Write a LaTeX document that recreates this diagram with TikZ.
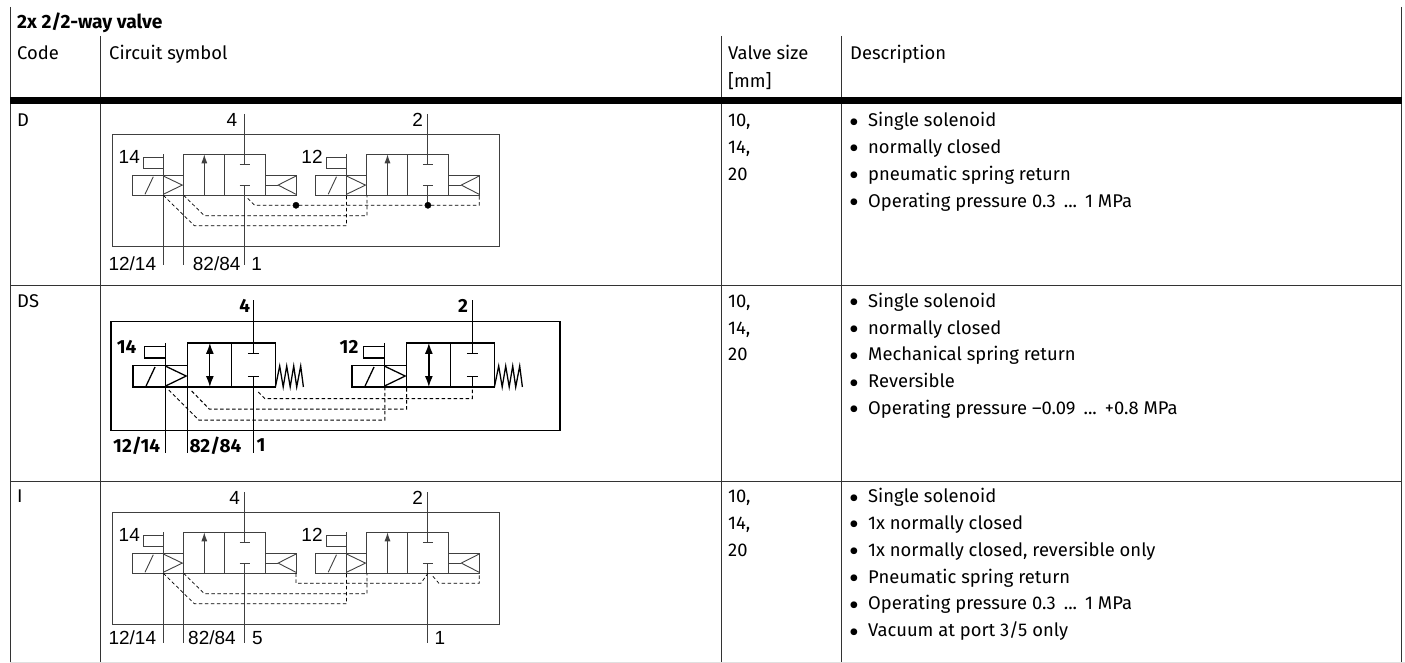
\documentclass[tikz,border=0pt]{standalone}
\usepackage{fontspec}
\setmainfont{Fira Sans}
\newfontfamily\portfont{Liberation Sans}
\usepackage{tikz}
\usetikzlibrary{calc}
\usetikzlibrary{arrows.meta}
\definecolor{rulegray}{gray}{0.2}
\definecolor{linegray}{gray}{0.25}
\newcommand{\rangedots}{\hspace{8pt}...\hspace{8pt}}
\newcommand{\listdot}{\makebox[18pt][l]{\smash{\raisebox{-5.4pt}{\fontsize{30}{30}\selectfont\kern-1pt\textbullet}}}}
\tikzstyle{junction}=[draw=black,fill=black,inner sep=2.2pt,circle]
\tikzstyle{cell}=[anchor=base west,inner sep=0pt,font=\fontsize{18.4}{22}\selectfont]
\tikzstyle{port}=[inner sep=0pt,font=\fontsize{19}{20}\selectfont\portfont]
\tikzstyle{boldport}=[inner sep=0pt,font=\fontsize{19}{20}\selectfont\bfseries]
\tikzstyle{rule}=[draw=rulegray,line width=0.9pt]
\tikzstyle{sym}=[draw=linegray,line width=0.9pt]
\tikzstyle{pilot}=[draw=black,line width=0.7pt,dash pattern=on 3.5pt off 2.5pt]

\begin{document}
\begin{tikzpicture}[x=1pt,y=-1pt]
  \useasboundingbox (0,0) rectangle (1405,663);

  % table
  \foreach \i/\x/\y in {1/10/7,2/100.7/36,3/721/36,4/841.7/36,5/1401.5/7}{
    \coordinate (top\i) at (\x,\y);
    \coordinate (bot\i) at (\x,663);
    \draw[rule] (top\i) -- (bot\i);
  }
  \fill[black] (10,97) rectangle (1401.5,104.3);
  \foreach \y in {285.5,481}{
    \draw[rule] (10,\y) -- (1401.5,\y);
  }
  \draw[black!12,line width=0.8pt] (10,662.3) -- (1405,662.3);

  \node[cell,font=\fontsize{19.2}{22}\selectfont\bfseries] (title) at (17,29) {2x 2/2-way valve};
  \foreach \x/\t in {17/Code,109/Circuit symbol,728/Valve size,850/Description}{
    \node[cell] (head\x) at (\x,59.3) {\t};
  }
  \node[cell] (unit) at (728,88) {[mm]};

  % rows
  \foreach \c/\t/\y in {d/D/126.7,s/DS/307.3,i/I/502.7}{
    \node[cell] (code\c) at (17,\y) {\t};
    \foreach \j/\v in {0/{10,},1/{14,},2/20}{
      \node[cell] (size\c\j) at (728,\y+\j*26.8) {\v};
    }
  }
  \foreach \j/\t in {0/Single solenoid,1/normally closed,2/pneumatic spring return,3/Operating pressure 0.3\rangedots{}1 MPa}{
    \node[cell] (descd\j) at (850,126.7+\j*26.8) {\listdot\t};
  }
  \foreach \j/\t in {0/Single solenoid,1/normally closed,2/Mechanical spring return,3/Reversible,4/Operating pressure --0.09\rangedots{}+0.8 MPa}{
    \node[cell] (descs\j) at (850,307.3+\j*26.8) {\listdot\t};
  }
  \foreach \j/\t in {0/Single solenoid,1/1x normally closed,2/{1x normally closed, reversible only},3/Pneumatic spring return,4/Operating pressure 0.3\rangedots{}1 MPa,5/{Vacuum at port 3/5 only}}{
    \node[cell] (desci\j) at (850,502.7+\j*26.8) {\listdot\t};
  }

  % boxes round the symbols
  \draw[sym] (112.7,134.3) rectangle (499.3,246);
  \draw[sym,line width=1.3pt,draw=black] (111,321.3) rectangle (560,430.3);
  \draw[sym] (112.7,512.3) rectangle (499.3,624);

  % valves
  \foreach \v/\x/\y/\s/\w/\k in {a/183.7/195.3/1/0.9/linegray,b/366.9/195.3/1/0.9/linegray,c/187.7/387/1.075/1.3/black,d/406.7/387/1.075/1.3/black,e/183.7/573.3/1/0.9/linegray,f/366.9/573.3/1/0.9/linegray}{
    \begin{scope}[shift={(\x,\y)},scale=\s,draw=\k,line width=\w pt]
      \draw (0,0) rectangle (81.6,-41);
      \draw (40.6,0) -- (40.6,-41);
      \draw (-51,0) rectangle (0,-20.3);
      \draw (-38.7,-1) -- (-30.4,-18.6);
      \draw (-20.4,-1) -- (-1.4,-10.2) -- (-20.4,-19.3);
      \draw (-20.4,-41) -- (-20.4,0);
      \draw (-20.4,-38) -- (-40.4,-38) -- (-40.4,-27) -- (-20.4,-27);
      \draw (56,-31) -- (66,-31);
      \draw (56,-10) -- (66,-10);
      \coordinate (\v-t) at (61,-31);
      \coordinate (\v-l) at (61,-10);
      \coordinate (\v-n) at (61,0);
      \coordinate (\v-s) at (-20.4,0);
      \coordinate (\v-x) at (0,0);
      \coordinate (\v-r) at (112.3,0);
      \coordinate (\v-m) at (20.6,0);
      \coordinate (\v-o) at (20.6,-41);
    \end{scope}
  }

  % pneumatic return and single arrow
  \foreach \v in {a,b,e,f}{
    \begin{scope}[shift={(\v-x)},sym]
      \draw (81.6,-20.3) -- (112.3,-20.3) -- (112.3,0) -- (81.6,0);
      \draw (81.6,-10.2) -- (94,-10.2);
      \draw (112.3,-19.3) -- (94.4,-10.2) -- (112.3,-1);
    \end{scope}
    \draw[sym,-{Latex[length=9pt,width=6pt]}] (\v-m) -- (\v-o);
  }
  % mechanical spring and double arrow
  \foreach \v in {c,d}{
    \begin{scope}[shift={(\v-x)},draw=black,line width=1.3pt]
      \draw (87.7,0) -- (92,-21) -- (95.5,0) -- (99,-21) -- (102.5,0) -- (106,-21) -- (109,0) -- (113,-21) -- (115.7,0);
    \end{scope}
    \draw[draw=black,fill=black,line width=1.3pt,{Latex[length=11pt,width=8pt]}-{Latex[length=11pt,width=8pt]}] (\v-m) -- (\v-o);
  }

  % ports
  \foreach \v in {a,b,e,f}{
    \coordinate (\v-in) at ($(\v-t)+(0,-50.3)$);
    \draw[sym] (\v-in) -- (\v-t);
  }
  \foreach \v in {a,e}{
    \coordinate (\v-a) at ($(\v-s)+(0,70)$);
    \coordinate (\v-b) at ($(\v-x)+(0,70)$);
    \coordinate (\v-c) at ($(\v-n)+(0,70)$);
    \draw[sym] (\v-s) -- (\v-a);
    \draw[sym] (\v-x) -- (\v-b);
    \draw[sym] (\v-l) -- (\v-c);
  }
  \foreach \v in {c,d}{
    \coordinate (\v-in) at ($(\v-t)+(0,-53.3)$);
    \draw[black,line width=1.3pt] (\v-in) -- (\v-t);
  }
  \coordinate (c-a) at ($(c-s)+(0,65.7)$);
  \coordinate (c-b) at ($(c-x)+(0,65.7)$);
  \coordinate (c-c) at ($(c-n)+(0,65.7)$);
  \draw[black,line width=1.3pt] (c-s) -- (c-a);
  \draw[black,line width=1.3pt] (c-x) -- (c-b);
  \draw[black,line width=1.3pt] (c-l) -- (c-c);
  \draw[black,line width=1.3pt] (d-l) -- (d-n);
  \draw[sym] (b-l) -- ($(b-n)+(0,10)$);
  \coordinate (f-c) at ($(f-n)+(0,70)$);
  \draw[sym] (f-l) -- (f-c);

  % pilot lines
  \draw[pilot] (a-n) ++(3,3) -- ++(7,7) -| (b-r);
  \draw[pilot] (a-x) -- ++(20.6,20.4) -| (b-x);
  \draw[pilot] (a-s) -- ++(31,30.4) -| (b-s);
  \node[junction] (dot1) at ($(a-r)+(0,10)$) {};
  \node[junction] (dot2) at ($(b-n)+(0,10)$) {};

  \draw[pilot,line width=1pt] (c-n) ++(5,5) -- ++(6.5,6.5) -| (d-n);
  \draw[pilot,line width=1pt] (c-x) ++(4,4) -- ++(17.5,18) -| (d-x);
  \draw[pilot,line width=1pt] (c-s) ++(3,3) -- ++(30,30) -| (d-s);

  \draw[pilot] (e-r) -- ++(0,10) -- ($(f-n)+(-7,10)$) -- (f-n);
  \draw[pilot] (f-n) ++(5,3) -- ++(6,7) -| (f-r);
  \draw[pilot] (e-x) -- ++(20.6,20.4) -| (f-x);
  \draw[pilot] (e-s) -- ++(31,30.4) -| (f-s);

  % port labels
  \foreach \n/\t/\x/\y in {p1/4/232/120,p2/2/417.7/120,p3/14/129.3/157.3,p4/12/312/157.3,p5/{12/14}/132.3/264,p6/{82/84}/216.7/264,p7/1/256.7/264,
      q1/4/234.7/497.7,q2/2/417.7/497.7,q3/14/129.3/535,q4/12/312/535,q5/{12/14}/132.3/638,q6/{82/84}/212/638,q7/5/257.3/638,q8/1/440/638}{
    \node[port] (\n) at (\x,\y) {\t};
  }
  \foreach \n/\t/\x/\y in {r1/4/244.7/305.7,r2/2/463/305.7,r3/14/126.7/347.3,r4/12/349/347.3,r5/{12/14}/136.7/445.5,r6/{82/84}/215.5/445.5,r7/1/261/445.5}{
    \node[boldport] (\n) at (\x,\y) {\t};
  }
\end{tikzpicture}
\end{document}
